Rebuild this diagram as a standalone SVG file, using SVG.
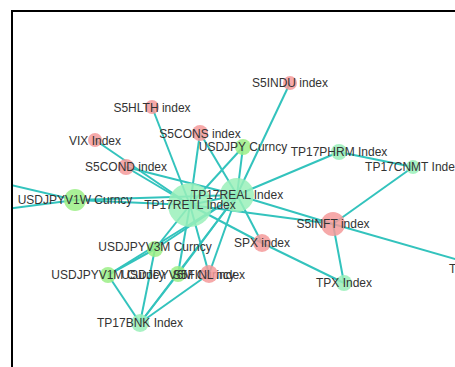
<svg xmlns="http://www.w3.org/2000/svg" width="455" height="367" viewBox="0 0 455 367">
<defs>
<clipPath id="frame"><rect x="12" y="11" width="450" height="360"/></clipPath>
<style>
.e{stroke:#33c3bd;stroke-width:2;fill:none}
.r{fill:#f49a9a;fill-opacity:0.85}
.g{fill:#9bee86;fill-opacity:0.85}
.m{fill:#9af0ba;fill-opacity:0.85}
text{font-family:"Liberation Sans",Arial,sans-serif;font-size:12px;fill:#333;text-anchor:middle}
</style>
</defs>
<rect width="455" height="367" fill="#fff"/>
<g clip-path="url(#frame)">
<g id="connectors">
<line class="e" x1="290" y1="83" x2="237" y2="195"/>
<line class="e" x1="152" y1="107" x2="190" y2="205"/>
<line class="e" x1="95" y1="140" x2="190" y2="205"/>
<line class="e" x1="126" y1="167" x2="190" y2="205"/>
<line class="e" x1="126" y1="167" x2="237" y2="195"/>
<line class="e" x1="200" y1="133" x2="190" y2="205"/>
<line class="e" x1="200" y1="133" x2="237" y2="195"/>
<line class="e" x1="243" y1="147" x2="190" y2="205"/>
<line class="e" x1="243" y1="147" x2="237" y2="195"/>
<line class="e" x1="339" y1="152" x2="237" y2="195"/>
<line class="e" x1="339" y1="152" x2="413" y2="167"/>
<line class="e" x1="413" y1="167" x2="333" y2="224"/>
<line class="e" x1="333" y1="224" x2="237" y2="195"/>
<line class="e" x1="333" y1="224" x2="190" y2="205"/>
<line class="e" x1="333" y1="224" x2="344" y2="283"/>
<line class="e" x1="333" y1="224" x2="500" y2="272"/>
<line class="e" x1="262" y1="243" x2="344" y2="283"/>
<line class="e" x1="262" y1="243" x2="190" y2="205"/>
<line class="e" x1="262" y1="243" x2="237" y2="195"/>
<line class="e" x1="75" y1="200" x2="190" y2="205"/>
<line class="e" x1="75" y1="200" x2="237" y2="195"/>
<line class="e" x1="75" y1="200" x2="-40" y2="173"/>
<line class="e" x1="75" y1="200" x2="-40" y2="215"/>
<line class="e" x1="155" y1="249" x2="190" y2="205"/>
<line class="e" x1="155" y1="249" x2="237" y2="195"/>
<line class="e" x1="108" y1="275" x2="155" y2="249"/>
<line class="e" x1="108" y1="275" x2="237" y2="195"/>
<line class="e" x1="108" y1="275" x2="140" y2="323"/>
<line class="e" x1="155" y1="249" x2="140" y2="323"/>
<line class="e" x1="178" y1="274" x2="190" y2="205"/>
<line class="e" x1="178" y1="274" x2="237" y2="195"/>
<line class="e" x1="178" y1="274" x2="140" y2="323"/>
<line class="e" x1="209" y1="274" x2="190" y2="205"/>
<line class="e" x1="209" y1="274" x2="237" y2="195"/>
<line class="e" x1="209" y1="274" x2="140" y2="323"/>
<line class="e" x1="140" y1="323" x2="237" y2="195"/>
<line class="e" x1="190" y1="205" x2="237" y2="195"/>
</g>
<g id="S5INDU"><circle class="r" cx="290" cy="83" r="7"/><text x="290" y="87">S5INDU index</text></g>
<g id="S5HLTH"><circle class="r" cx="152" cy="107" r="7"/><text x="152" y="112">S5HLTH index</text></g>
<g id="VIX"><circle class="r" cx="95" cy="140" r="7"/><text x="95" y="145">VIX Index</text></g>
<g id="S5CONS"><circle class="r" cx="200" cy="133" r="8"/><text x="200" y="138">S5CONS index</text></g>
<g id="USDJPY"><circle class="g" cx="243" cy="147" r="8"/><text x="243" y="151">USDJPY Curncy</text></g>
<g id="S5COND"><circle class="r" cx="126" cy="167" r="8"/><text x="126" y="171">S5COND index</text></g>
<g id="TP17PHRM"><circle class="m" cx="339" cy="152" r="8"/><text x="339" y="156">TP17PHRM Index</text></g>
<g id="TP17CNMT"><circle class="m" cx="413" cy="167" r="7"/><text x="413" y="171">TP17CNMT Index</text></g>
<g id="USDJPYV1W"><circle class="g" cx="75" cy="200" r="11"/><text x="75" y="204">USDJPYV1W Curncy</text></g>
<g id="TP17RETL"><circle class="m" cx="190" cy="205" r="22"/></g>
<g id="TP17REAL"><circle class="m" cx="237" cy="195" r="17"/><text x="237" y="199">TP17REAL Index</text></g>
<text x="190" y="209">TP17RETL Index</text>
<g id="S5INFT"><circle class="r" cx="333" cy="224" r="12"/><text x="333" y="228">S5INFT index</text></g>
<g id="SPX"><circle class="r" cx="262" cy="243" r="9"/><text x="262" y="247">SPX index</text></g>
<g id="USDJPYV3M"><circle class="g" cx="155" cy="249" r="8"/><text x="155" y="251">USDJPYV3M Curncy</text></g>
<g id="USDJPYV1M"><circle class="g" cx="108" cy="275" r="8"/><text x="108" y="279">USDJPYV1M Curncy</text></g>
<g id="USDJPYV6M"><circle class="g" cx="178" cy="274" r="8"/><text x="178" y="279">USDJPYV6M Curncy</text></g>
<g id="S5FINL"><circle class="r" cx="209" cy="274" r="9"/><text x="209" y="279">S5FINL index</text></g>
<g id="TP17BNK"><circle class="m" cx="140" cy="323" r="9"/><text x="140" y="327">TP17BNK Index</text></g>
<g id="TPX"><circle class="m" cx="344" cy="283" r="8"/><text x="344" y="287">TPX Index</text></g>
<g id="offright"><text x="449" y="273" style="text-anchor:start">T</text></g>
</g>
<rect x="12" y="11" width="460" height="370" fill="none" stroke="#000" stroke-width="2"/>
</svg>
